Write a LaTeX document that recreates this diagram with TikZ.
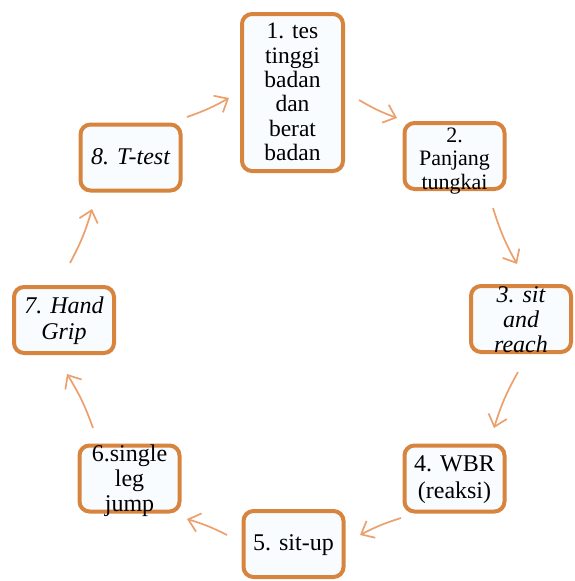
\documentclass[tikz,border=0pt]{standalone}
\usepackage{fontspec}
\setmainfont{Liberation Serif}
\usetikzlibrary{arrows.meta}
\definecolor{boxline}{RGB}{214,132,62}
\definecolor{arrowc}{RGB}{236,160,108}
\definecolor{boxfill}{RGB}{249,252,255}
\tikzset{
  stepbox/.style={draw=boxline, line width=4pt, rounded corners=10pt, fill=boxfill,
    minimum width=100pt, minimum height=66pt, inner sep=0pt},
  steptext/.style={align=center, inner sep=0pt, font=\fontsize{24}{25}\selectfont},
  flow/.style={draw=arrowc, line width=1.7pt, -{Straight Barb[length=11pt,width=19pt]}},
}
\begin{document}
\begin{tikzpicture}[x=1pt,y=-1pt]
\useasboundingbox (0,0) rectangle (575,581);
% boxes
\node[stepbox, minimum width=101pt, minimum height=157pt] (b1) at (292.5,92.5) {};
\node[stepbox] (b2) at (454.5,156) {};
\node[stepbox] (b3) at (521,319) {};
\node[stepbox] (b4) at (454.5,478.5) {};
\node[stepbox] (b5) at (293.5,544) {};
\node[stepbox] (b6) at (129.5,478.5) {};
\node[stepbox] (b7) at (64,320) {};
\node[stepbox] (b8) at (130.5,157.5) {};
% texts
\node[steptext, font=\fontsize{23.5}{24.4}\selectfont] (t1) at (292.5,92) {1. tes\\tinggi\\badan\\dan\\berat\\badan};
\node[steptext, font=\fontsize{22}{23.5}\selectfont] (t2) at (454.5,161) {2.\\Panjang\\tungkai};
\node[steptext, font=\fontsize{24}{25}\selectfont\itshape] (t3) at (521,320) {3. sit\\and\\reach};
\node[steptext, font=\fontsize{24}{27}\selectfont] (t4) at (454.5,480) {4. WBR\\(reaksi)};
\node[steptext] (t5) at (293.5,545) {5. sit-up};
\node[steptext] (t6) at (129.5,481) {6.single\\leg\\jump};
\node[steptext, font=\fontsize{24}{26}\selectfont\itshape] (t7) at (64,321) {7. Hand\\Grip};
\node[steptext, font=\fontsize{24}{25}\selectfont\itshape] (t8) at (130.5,157) {8. T-test};
% arrow ends
\coordinate (a1s) at (187,117); \coordinate (a1e) at (229,98);
\coordinate (a2s) at (359,100); \coordinate (a2e) at (397,118);
\coordinate (a3s) at (493,208); \coordinate (a3e) at (517,264);
\coordinate (a4s) at (518,372); \coordinate (a4e) at (494,428);
\coordinate (a5s) at (401,518); \coordinate (a5e) at (360,535);
\coordinate (a6s) at (227,535); \coordinate (a6e) at (187,519);
\coordinate (a7s) at (93,428); \coordinate (a7e) at (67,374);
\coordinate (a8s) at (70,263); \coordinate (a8e) at (92,209);
\draw[flow] (a1s) to[bend right=5] (a1e);
\draw[flow] (a2s) to[bend right=5] (a2e);
\draw[flow] (a3s) to[bend right=6] (a3e);
\draw[flow] (a4s) to[bend right=6] (a4e);
\draw[flow] (a5s) to[bend right=5] (a5e);
\draw[flow] (a6s) to[bend right=5] (a6e);
\draw[flow] (a7s) to[bend right=6] (a7e);
\draw[flow] (a8s) to[bend right=6] (a8e);
\end{tikzpicture}
\end{document}
